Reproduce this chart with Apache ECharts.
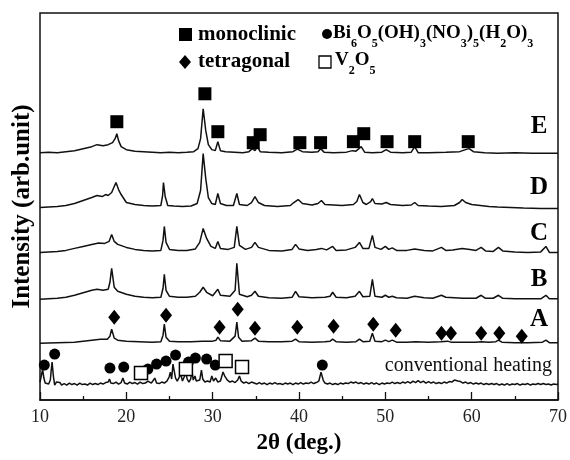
<!DOCTYPE html>
<html>
<head>
    <meta charset="utf-8">
    <title>XRD patterns</title>
    <script src="https://cdn.jsdelivr.net/npm/echarts@6/dist/echarts.min.js"></script>
</head>
<body style="margin:0;background:#fff;">
    <div id="main" style="width: 570px;height:460px;"></div>
    <script type="text/javascript">
        // 2theta (deg) / stacked intensity (arb.)
        var traceE = [[10,248],[11,248.5],[12,248],[13,249],[14,250],[15,252],[16,254],[16.6,256],[17.3,255],[17.9,256],[18.4,258],[18.7,262],[18.9,267],[19.1,260],[19.4,254],[20,251],[21,249.5],[22,249],[23,248.5],[24,248],[25,248.5],[26,248],[27,248.5],[27.8,249],[28.3,252],[28.6,262],[28.9,292],[29.2,270],[29.5,256],[29.9,251],[30.3,250],[30.6,259],[30.9,250],[31.5,249],[32.5,248.5],[33.5,248],[34.2,249],[34.6,252],[34.9,250],[35.2,254],[35.5,249],[36.5,248.5],[38,248],[39.3,249],[39.8,251.5],[40.4,249],[41.5,248.5],[42.2,249],[42.5,252],[42.9,248.5],[44,248],[45.5,248.5],[46.2,250],[46.6,249.5],[47.2,254],[47.6,248.5],[48.5,248],[49.6,248.5],[50.1,251],[50.6,248.5],[52,248],[53,248.5],[53.4,254],[53.8,248],[55,248],[57,248.5],[58.6,249],[59.3,251],[59.7,252],[60.2,249],[61.5,248],[63,247.5],[65,248],[67,247.5],[68.5,247.5],[70,247.5]];
        var traceD = [[10,193],[11,193.5],[12,194],[13,195],[14,197],[15,200],[16,203],[16.6,205],[17.2,204],[17.6,206],[17.9,205],[18.3,208],[18.6,214],[18.8,218],[19.1,211],[19.4,206],[20,198],[21,196],[22,195],[23,194.5],[24,195],[24.2,205],[24.3,218],[24.5,204],[24.8,195],[25.5,194.5],[26.5,194],[27.5,194.5],[28.2,197],[28.6,210],[28.9,247],[29.2,222],[29.5,203],[29.9,197],[30.3,196],[30.6,207],[30.9,197],[31.6,195],[32.4,195],[32.7,204],[32.8,207],[33.1,196],[34,195],[34.5,198],[34.9,204],[35.3,198],[36,195],[37.5,194],[39,195],[39.4,198],[39.9,201],[40.4,197],[41.5,195.5],[42.2,197],[42.6,200],[43,196],[44,195.5],[45,195],[46.3,196],[46.7,199],[47,206],[47.4,198],[47.8,196],[48.3,199],[48.5,202],[48.8,197],[49.6,196.5],[50.1,198],[50.6,196],[52,195],[53,195.5],[53.4,198],[53.8,195],[55,194.5],[56.5,194],[58,195],[58.6,198],[58.9,201],[59.3,198],[60,196],[61,195],[62,194],[63,193.5],[64.5,193],[66,192.5],[68,192],[70,192]];
        var traceC = [[10,148],[11,148.5],[12,149],[13,150],[14,152],[15,154],[16,156],[16.8,157.5],[17.5,157],[18,159],[18.3,166],[18.6,159],[19,156],[20,153],[21,151],[22,150],[23,149.5],[24,150],[24.25,160],[24.4,174],[24.6,158],[25,151],[26,150],[27,150],[28,151.5],[28.5,158],[28.9,172],[29.3,162],[29.8,154],[30.3,152],[30.6,159],[30.9,152],[31.8,151],[32.5,153],[32.8,174],[33.1,155],[33.8,151],[34.5,153],[34.9,158],[35.3,153],[36.5,150],[38,149.5],[39.2,151],[39.6,156],[40,151.5],[41,150],[42,151],[42.6,152],[43.2,150.5],[43.9,154],[44.3,150],[45.5,150.5],[46.5,153],[47,158],[47.4,152],[48.1,152],[48.5,165],[48.8,153],[49.5,151],[50,154],[50.4,151],[50.8,152.5],[51.3,150],[52.5,150],[53.4,151.5],[54.5,150],[55.5,149.5],[56.5,153],[57,150],[57.8,150.5],[58.9,152],[59.8,151],[60.5,150],[61.1,153],[61.6,149.5],[62.5,149],[63.1,153],[63.6,149.5],[65,148.5],[66.5,148],[68,148.5],[68.6,154],[69,148],[70,148]];
        var traceB = [[10,101],[11,101.5],[12,102],[13,103],[14,105],[15,107.5],[16,110],[16.6,111],[17.3,110],[17.9,111],[18.1,118],[18.3,132],[18.6,113],[19,109],[20,106],[21,104],[22,103],[23,102.5],[24,103],[24.25,112],[24.4,126],[24.6,110],[25,104],[26,103],[27,103],[28,104],[28.5,108],[28.9,113],[29.3,108],[30,104.5],[30.6,111],[30.9,105],[32,104],[32.6,110],[32.8,137],[33.1,106],[34,103.5],[34.5,105],[34.9,109],[35.3,104],[36.5,102.5],[38,102],[39.2,103],[39.6,109],[40,103.5],[41.5,102.5],[43,103],[43.6,104],[43.9,108],[44.3,103],[45.5,102.5],[46.5,104],[47,109],[47.4,103.5],[48.2,104],[48.5,121],[48.8,104],[49.6,103],[50,105],[50.4,103],[50.8,104],[51.3,102.5],[52.5,102],[53.4,104],[54.5,102.5],[55.5,102],[56.5,105],[57,103],[58,102.5],[59,102],[60.5,102],[61.1,105],[61.6,102],[62.5,102],[63.1,105],[63.6,102],[65,101.5],[66.5,101.5],[68,101.5],[68.6,105],[69,101.5],[70,101.5]];
        var traceA = [[10,57],[12,57.5],[14,58],[15,59],[16,60],[17,61],[17.8,61],[18.1,64],[18.3,71],[18.6,62],[19,60],[20,59],[21.5,58.5],[23,58],[24,58.5],[24.25,65],[24.4,76],[24.6,63],[25,59],[26,58.5],[27.5,58.5],[28.8,59],[30,59],[30.4,60],[30.6,63],[30.9,59.5],[32,59],[32.6,64],[32.8,78],[33,63],[33.4,59],[34.5,59.5],[34.9,62],[35.3,59],[36.5,58.5],[38,58.5],[39.2,59],[39.6,61],[40,58.5],[41.5,58],[43,58.5],[43.6,59],[43.9,61],[44.3,58.5],[45.5,58],[46.6,58.5],[47,61],[47.4,58.5],[48.2,59],[48.5,67],[48.8,59],[49.6,58.5],[50,60],[50.4,58.5],[50.8,60],[51.3,58],[52.5,58],[53.5,58.5],[55,58],[56.4,58.5],[57.2,59],[57.6,58],[59,58],[60.5,58],[61.1,58.5],[62,58],[62.8,58.5],[63.1,60],[63.5,58],[65,57.5],[66.5,57.5],[68.2,58],[68.6,60],[69,57.5],[70,57.5]];
        var traceConv = [[10,18],[10.15,24],[10.3,31],[10.45,22],[10.6,17],[10.8,19],[11,16],[11.2,20],[11.3,30],[11.4,38],[11.55,24],[11.7,15],[11.9,18],[12.1,16],[12.3,17.5],[12.5,15],[12.8,16.5],[13.1,15],[13.4,17],[13.7,15.5],[14,16.5],[14.3,15],[14.6,17],[14.9,15.5],[15.2,16],[15.5,15],[15.8,17],[16.1,15.5],[16.4,16.5],[16.7,15.5],[17,17],[17.3,16],[17.6,17.5],[17.9,18],[18.05,21],[18.2,17],[18.5,16.5],[18.8,18],[19.1,16],[19.4,17.5],[19.6,22],[19.8,17],[20.1,16],[20.4,18],[20.7,16.5],[21,17.5],[21.3,16],[21.6,18],[21.9,16.5],[22.2,17],[22.5,19],[22.7,21],[22.9,17],[23.1,18],[23.3,22],[23.5,17],[23.8,16.5],[24.1,18],[24.4,17],[24.7,19],[24.95,23],[25.1,28],[25.25,21],[25.4,36],[25.55,29],[25.7,22],[25.9,19],[26.1,21],[26.3,26],[26.5,19],[26.7,20],[26.9,27],[27.05,21],[27.25,18],[27.45,21],[27.6,29],[27.75,20],[27.95,24],[28.1,19],[28.3,18.5],[28.5,20],[28.7,30],[28.85,21],[29.1,18],[29.4,19],[29.7,18],[29.9,24],[30.1,19],[30.35,22],[30.6,18],[30.9,19],[31.2,28],[31.4,24],[31.7,20],[32,18],[32.3,19],[32.6,17.5],[32.9,20],[33.1,24],[33.3,19],[33.6,17],[33.9,18],[34.2,16.5],[34.5,18],[34.8,17],[35.1,16],[35.4,17.5],[35.7,16],[36,17],[36.3,15.5],[36.6,17],[36.9,16],[37.2,17.5],[37.5,16],[37.8,16.5],[38.1,15.5],[38.4,17],[38.7,16],[39,17],[39.3,15.5],[39.6,17],[39.9,16],[40.2,17.5],[40.5,16],[40.8,17],[41.1,16.5],[41.4,18],[41.7,16.5],[42,17.5],[42.3,19],[42.55,28],[42.8,20],[43,17],[43.3,16],[43.6,17],[43.9,15.5],[44.2,16.5],[44.5,15.5],[44.8,17],[45.1,16],[45.4,17],[45.7,16.5],[46,18],[46.3,17],[46.6,18],[46.9,16.5],[47.2,17.5],[47.5,16],[47.8,17],[48.1,16],[48.4,17.5],[48.7,16],[49,17],[49.3,15.5],[49.6,17],[49.9,16],[50.2,17],[50.5,16.5],[50.8,18],[51.1,16.5],[51.4,17.5],[51.7,16.5],[52,18],[52.3,17],[52.6,18.5],[52.9,17],[53.2,19],[53.5,17.5],[53.8,19.5],[54.1,17.5],[54.4,19],[54.7,17],[55,18.5],[55.3,17],[55.6,18],[55.9,16.5],[56.2,17.5],[56.5,16.5],[56.8,18],[57.1,17],[57.4,18.5],[57.7,18],[58,20],[58.2,21.5],[58.4,19],[58.7,18.5],[59,17],[59.3,18],[59.6,16.5],[59.9,17.5],[60.2,16],[60.5,17],[60.8,16],[61.1,17],[61.4,15.5],[61.7,16.5],[62,15.5],[62.3,16.5],[62.6,15.5],[62.9,16.5],[63.2,15],[63.5,16],[63.8,15],[64.1,16.5],[64.4,15],[64.7,16],[65,15.5],[65.3,16.5],[65.6,15],[65.9,16],[66.2,15.5],[66.5,16.5],[66.8,15],[67.1,16],[67.4,15.5],[67.7,16.5],[68,15.5],[68.3,16.5],[68.6,15.5],[68.9,16],[69.2,15],[69.5,16],[69.8,15.5],[70,16]];

        // phase markers
        var monoclinic = [[18.9,279],[29.1,307],[30.6,269],[34.7,258],[35.5,266],[40.1,258],[42.5,258],[46.3,259],[47.5,267],[50.2,259],[53.4,259],[59.6,259]];
        var tetragonal = [[18.6,83],[24.6,85],[30.8,73],[32.9,91],[34.9,72],[39.8,73],[44.0,74],[48.6,76],[51.2,70],[56.5,67],[57.6,67],[61.1,67],[63.2,67],[65.8,64]];
        var bismuthNitrate = [[10.5,35],[11.7,46],[18.1,32],[19.7,33],[22.5,31],[23.5,36],[24.6,39],[25.7,45],[27.2,38],[28.0,42],[29.3,41],[30.3,35],[42.7,35]];
        var v2o5 = [[21.7,27],[26.9,31],[31.5,39],[33.4,33]];

        var xTicks = [10, 20, 30, 40, 50, 60, 70];
        var sampleLabels = [['E', 127], ['D', 188], ['C', 234], ['B', 280], ['A', 320]];

        var serif = '"Liberation Serif", "DejaVu Serif", serif';
        var myChart = echarts.init(document.getElementById('main'));

        function trace(data) {
            return {
                type: 'line', data: data, showSymbol: false, symbol: 'none',
                lineStyle: { color: '#111', width: 1.5 }, z: 2, animation: false
            };
        }
        function marks(data, symbol, size, fill) {
            return {
                type: 'scatter', data: data, symbol: symbol, symbolSize: size,
                itemStyle: { color: fill, borderColor: '#000', borderWidth: fill === '#fff' ? 1.5 : 0, opacity: 1 },
                z: 5, animation: false
            };
        }

        // formula text with subscripts
        var main = { fontSize: 19, fontWeight: 'bold', fontFamily: serif, lineHeight: 26, verticalAlign: 'top', color: '#000' };
        var sub = { fontSize: 12, fontWeight: 'bold', fontFamily: serif, lineHeight: 12, verticalAlign: 'bottom', color: '#000' };

        var graphics = [
            { type: 'rect', shape: { x: 179, y: 28, width: 13, height: 13 }, style: { fill: '#000' } },
            { type: 'text', x: 198, y: 35, style: { text: 'monoclinic', font: 'bold 21px ' + serif, fill: '#000', textVerticalAlign: 'middle' } },
            { type: 'polygon', shape: { points: [[185, 55], [191, 62], [185, 69], [179, 62]] }, style: { fill: '#000' } },
            { type: 'text', x: 198, y: 62, style: { text: 'tetragonal', font: 'bold 21px ' + serif, fill: '#000', textVerticalAlign: 'middle' } },
            { type: 'circle', shape: { cx: 327, cy: 34, r: 5 }, style: { fill: '#000' } },
            { type: 'text', x: 333, y: 24, style: {
                text: '{m|Bi}{s|6}{m|O}{s|5}{m|(OH)}{s|3}{m|(NO}{s|3}{m|)}{s|5}{m|(H}{s|2}{m|O)}{s|3}',
                rich: { m: main, s: sub }, textVerticalAlign: 'top'
            } },
            { type: 'rect', shape: { x: 319, y: 56, width: 12, height: 12 }, style: { fill: '#fff', stroke: '#000', lineWidth: 1.3 } },
            { type: 'text', x: 335, y: 51, style: {
                text: '{m|V}{s|2}{m|O}{s|5}', rich: { m: main, s: sub }, textVerticalAlign: 'top'
            } },
            { type: 'text', x: 552, y: 366, style: { text: 'conventional heating', font: '20px ' + serif, fill: '#111', textAlign: 'right', textVerticalAlign: 'middle' } }
        ];
        sampleLabels.forEach(function (s) {
            graphics.push({ type: 'text', x: 539, y: s[1], style: { text: s[0], font: 'bold 25px ' + serif, fill: '#000', textAlign: 'center', textVerticalAlign: 'middle' } });
        });

        var option = {
            backgroundColor: '#fff',
            animation: false,
            grid: { left: 40, right: 11, top: 13, bottom: 59, show: true, borderColor: '#111', borderWidth: 1.5, backgroundColor: 'transparent' },
            xAxis: {
                type: 'value', min: 10, max: 70, interval: 10,
                name: '2θ (deg.)', nameLocation: 'middle', nameGap: 32,
                nameTextStyle: { fontFamily: serif, fontWeight: 'bold', fontSize: 23, color: '#000' },
                axisLine: { lineStyle: { color: '#111', width: 1.5 } },
                axisTick: { inside: true, length: 8, lineStyle: { color: '#111', width: 1.3 } },
                minorTick: { show: true, splitNumber: 2, length: 4, lineStyle: { color: '#111', width: 1.3 } },
                splitLine: { show: false },
                axisLabel: {
                    margin: 8, fontFamily: serif, fontSize: 18, color: '#222',
                    formatter: function (v) { return xTicks.indexOf(v) >= 0 ? String(v) : ''; }
                }
            },
            yAxis: {
                type: 'value', min: 0, max: 388,
                name: 'Intensity (arb.unit)', nameLocation: 'middle', nameGap: 5,
                nameTextStyle: { fontFamily: serif, fontWeight: 'bold', fontSize: 25, color: '#000' },
                axisLine: { show: false }, axisTick: { show: false }, axisLabel: { show: false }, splitLine: { show: false }
            },
            series: [
                trace(traceE), trace(traceD), trace(traceC), trace(traceB), trace(traceA), trace(traceConv),
                marks(monoclinic, 'rect', 13, '#000'),
                marks(tetragonal, 'diamond', [12, 15], '#000'),
                marks(bismuthNitrate, 'circle', 11, '#000'),
                marks(v2o5, 'rect', 13, '#fff')
            ],
            graphic: graphics
        };

        myChart.setOption(option);
    </script>
</body>
</html>
